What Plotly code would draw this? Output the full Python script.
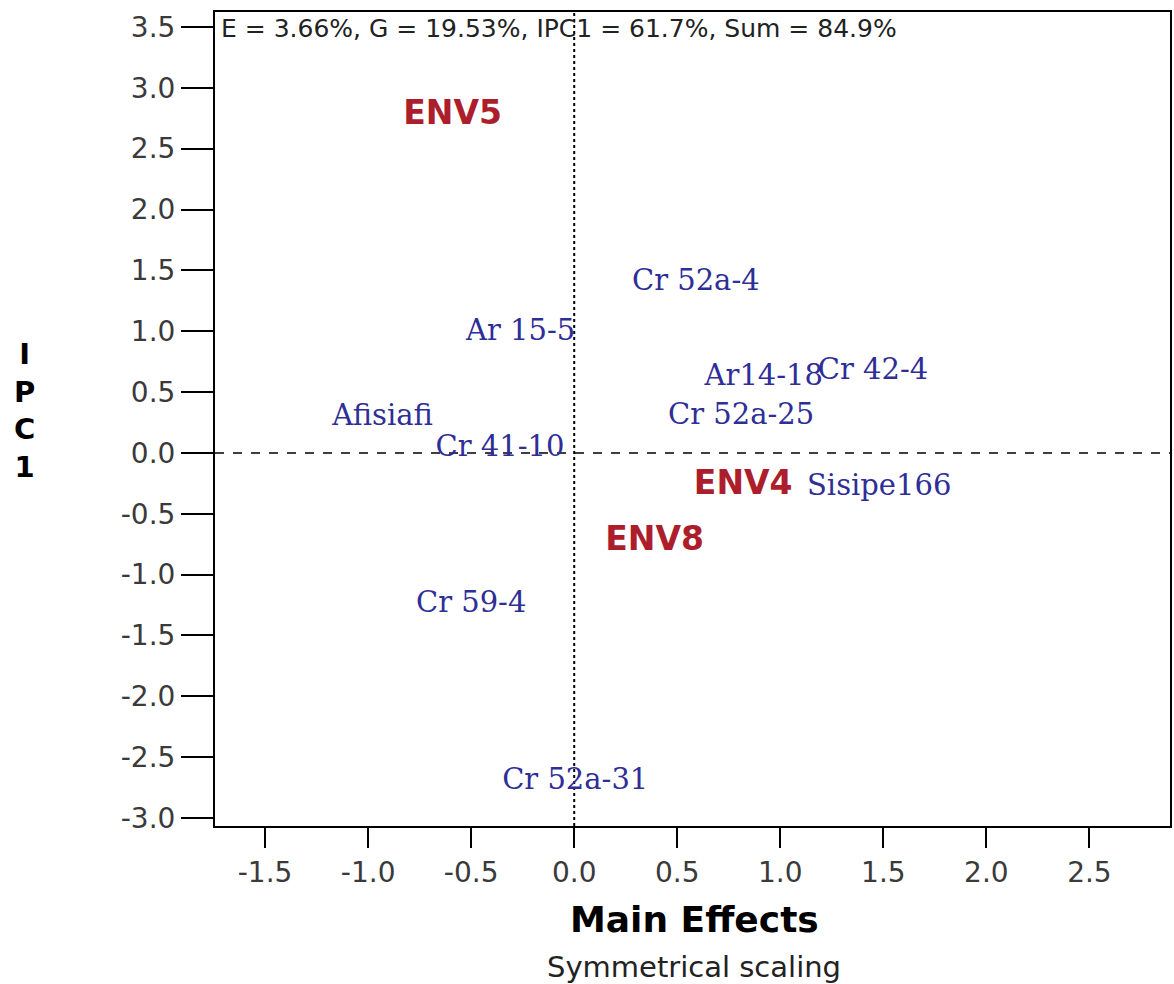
import plotly.graph_objects as go

# Genotype scores (main effect, IPC1)
gen_names = ["Cr 52a-4", "Ar 15-5", "Ar14-18", "Cr 42-4", "Afisiafi", "Cr 52a-25",
             "Cr 41-10", "Sisipe166", "Cr 59-4", "Cr 52a-31"]
gen_me = [0.59, -0.26, 0.92, 1.45, -0.93, 0.81, -0.36, 1.48, -0.50, 0.005]
gen_ipc1 = [1.40, 0.99, 0.62, 0.67, 0.29, 0.30, 0.03, -0.29, -1.25, -2.70]

# Environment scores
env_names = ["ENV5", "ENV4", "ENV8"]
env_me = [-0.59, 0.82, 0.39]
env_ipc1 = [2.77, -0.27, -0.73]

x_ticks = [-1.5, -1.0, -0.5, 0.0, 0.5, 1.0, 1.5, 2.0, 2.5]
y_ticks = [3.5, 3.0, 2.5, 2.0, 1.5, 1.0, 0.5, 0.0, -0.5, -1.0, -1.5, -2.0, -2.5, -3.0]

summary = "E = 3.66%, G = 19.53%, IPC1 = 61.7%, Sum = 84.9%"

fig = go.Figure()

# Reference lines through the origin
fig.add_shape(type="line", xref="x", yref="paper", x0=0, x1=0, y0=0, y1=1,
              line=dict(color="black", width=2, dash="dot"), layer="below")
fig.add_shape(type="line", xref="paper", yref="y", x0=0, x1=1, y0=0, y1=0,
              line=dict(color="black", width=1.5, dash="dash"), layer="below")

fig.add_trace(go.Scatter(
    x=gen_me, y=gen_ipc1, text=gen_names, mode="text",
    textposition="middle center",
    textfont=dict(family="DejaVu Serif", size=29, color="#2e2e96"),
    hoverinfo="text", showlegend=False))

fig.add_trace(go.Scatter(
    x=env_me, y=env_ipc1, text=env_names, mode="text",
    textposition="middle center",
    textfont=dict(family="DejaVu Sans", size=33, color="#ac1e2c", weight="bold"),
    hoverinfo="text", showlegend=False))

tick_font = dict(family="DejaVu Sans", size=28, color="#3a3a3a")

fig.update_xaxes(
    range=[-1.743, 2.891], tickvals=x_ticks, ticktext=[f"{v:.1f}" for v in x_ticks],
    ticks="outside", ticklen=20, tickwidth=2, tickcolor="black",
    showline=True, linecolor="black", linewidth=2, mirror=True,
    showgrid=False, zeroline=False, tickfont=tick_font,
)
fig.update_yaxes(
    range=[-3.066, 3.623], tickvals=y_ticks, ticktext=[f"{v:.1f}" for v in y_ticks],
    ticks="outside", ticklen=32, tickwidth=2, tickcolor="black",
    showline=True, linecolor="black", linewidth=2, mirror=True,
    showgrid=False, zeroline=False, tickfont=tick_font,
)

fig.add_annotation(text=summary, xref="paper", yref="paper", x=0.004, y=1.0,
                   xanchor="left", yanchor="top", showarrow=False,
                   font=dict(family="DejaVu Sans", size=25, color="#222222"))

fig.add_annotation(text="Main Effects", xref="paper", yref="paper", x=0.502, y=-0.115,
                   xanchor="center", yanchor="middle", showarrow=False,
                   font=dict(family="DejaVu Sans", size=36, color="black", weight="bold"))
fig.add_annotation(text="Symmetrical scaling", xref="paper", yref="paper", x=0.502, y=-0.173,
                   xanchor="center", yanchor="middle", showarrow=False,
                   font=dict(family="DejaVu Sans", size=29, color="#222222"))
fig.add_annotation(text="I<br>P<br>C<br>1", xref="paper", yref="paper", x=-0.2,
                   y=0.51, xanchor="center", yanchor="middle", showarrow=False,
                   font=dict(family="DejaVu Sans", size=29, color="black", weight="bold"))

fig.update_layout(
    width=1174, height=984,
    margin=dict(l=215, r=2, t=12, b=158),
    plot_bgcolor="white", paper_bgcolor="white",
)

fig.write_html("out.html")
